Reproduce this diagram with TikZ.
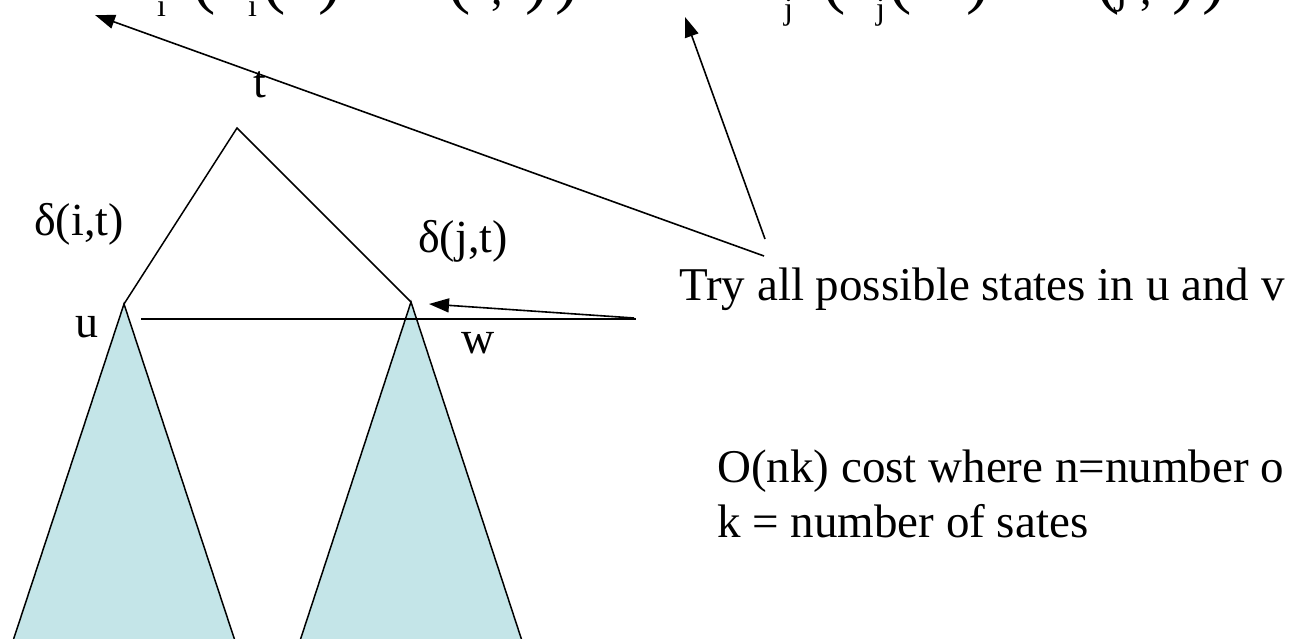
\documentclass[tikz,border=0pt]{standalone}
\usepackage{fontspec}
\setmainfont{Liberation Serif}
\usetikzlibrary{arrows.meta}
\definecolor{tri}{HTML}{C4E5E8}
\begin{document}
\begin{tikzpicture}[x=1pt,y=-1pt,
  lbl/.style={inner sep=0pt,font=\fontsize{46}{50}\selectfont},
  note/.style={inner sep=0pt,anchor=base west,font=\fontsize{47}{52}\selectfont},
  frag/.style={inner sep=0pt,anchor=base west,font=\fontsize{46}{50}\selectfont},
  fragbig/.style={inner sep=0pt,anchor=base west,font=\fontsize{70}{80}\selectfont},
  fragsub/.style={inner sep=0pt,anchor=base west,font=\fontsize{32}{36}\selectfont},
  ln/.style={line width=1.5pt},
  arr/.style={line width=1.6pt,-{Triangle[length=20pt,width=14pt]}}]
\useasboundingbox (0,0) rectangle (1297,639);
\clip (0,0) rectangle (1297,639);

% coordinates
\coordinate (apex) at (237,128);
\coordinate (u) at (124,304);
\coordinate (v) at (411,302);
\coordinate (uL) at (10,650);
\coordinate (uR) at (238,650);
\coordinate (vL) at (297,650);
\coordinate (vR) at (525,650);
\coordinate (hA) at (141,319);
\coordinate (hB) at (636,319);
\coordinate (hS) at (634,318);
\coordinate (hT) at (429,304);
\coordinate (c1) at (764,256);
\coordinate (c2) at (765,239);
\coordinate (tipA) at (95,15);
\coordinate (tipB) at (685,17);

% subtrees
\fill[tri] (uL) -- (u) -- (uR) -- cycle;
\draw[ln] (uL) -- (u) -- (uR);
\fill[tri] (vL) -- (v) -- (vR) -- cycle;
\draw[ln] (vL) -- (v) -- (vR);

% main tree
\draw[ln] (u) -- (apex) -- (v);
\draw[line width=1.6pt] (hA) -- (hB);
\draw[arr] (hS) -- (hT);

% annotation arrows
\draw[arr] (c1) -- (tipA);
\draw[arr] (c2) -- (tipB);

% labels
\node[lbl,anchor=base] (lt) at (260,98) {t};
\node[lbl,anchor=base] (ldi) at (79,235) {δ(i,t)};
\node[lbl,anchor=base] (ldj) at (463,252) {δ(j,t)};
\node[lbl,anchor=base] (lu) at (87,337) {u};
\node[lbl,anchor=base] (lw) at (478,353) {w};
\node[note] (ltry) at (679,300) {Try all possible states in u and v};
\node[note] (lcost) at (717,482) {O(nk) cost where n=number o};
\node[note] (lk) at (717,537) {k = number of sates};

% clipped formula at the top edge
\node[fragsub] (f1) at (157,17) {i};
\node[fragbig] (f2) at (192,1) {(};
\node[fragsub] (f3) at (248,17) {i};
\node[fragbig] (f4) at (262,1) {(};
\node[fragbig] (f5) at (318,1) {)};
\node[fragbig] (f6) at (447,1) {(};
\node[frag] (f7) at (491,5) {,};
\node[fragbig] (f8) at (525,1) {)};
\node[fragbig] (f9) at (555,1) {)};
\node[fragsub] (f10) at (784,20) {j};
\node[fragbig] (f11) at (822,1) {(};
\node[fragsub] (f12) at (876,20) {j};
\node[fragbig] (f13) at (888,1) {(};
\node[fragbig] (f14) at (966,1) {)};
\node[fragbig] (f15) at (1096,1) {(};
\node[frag] (f16) at (1115,3) {j};
\node[frag] (f17) at (1140,5) {,};
\node[fragbig] (f18) at (1172,1) {)};
\node[fragbig] (f19) at (1202,1) {)};
\end{tikzpicture}
\end{document}
